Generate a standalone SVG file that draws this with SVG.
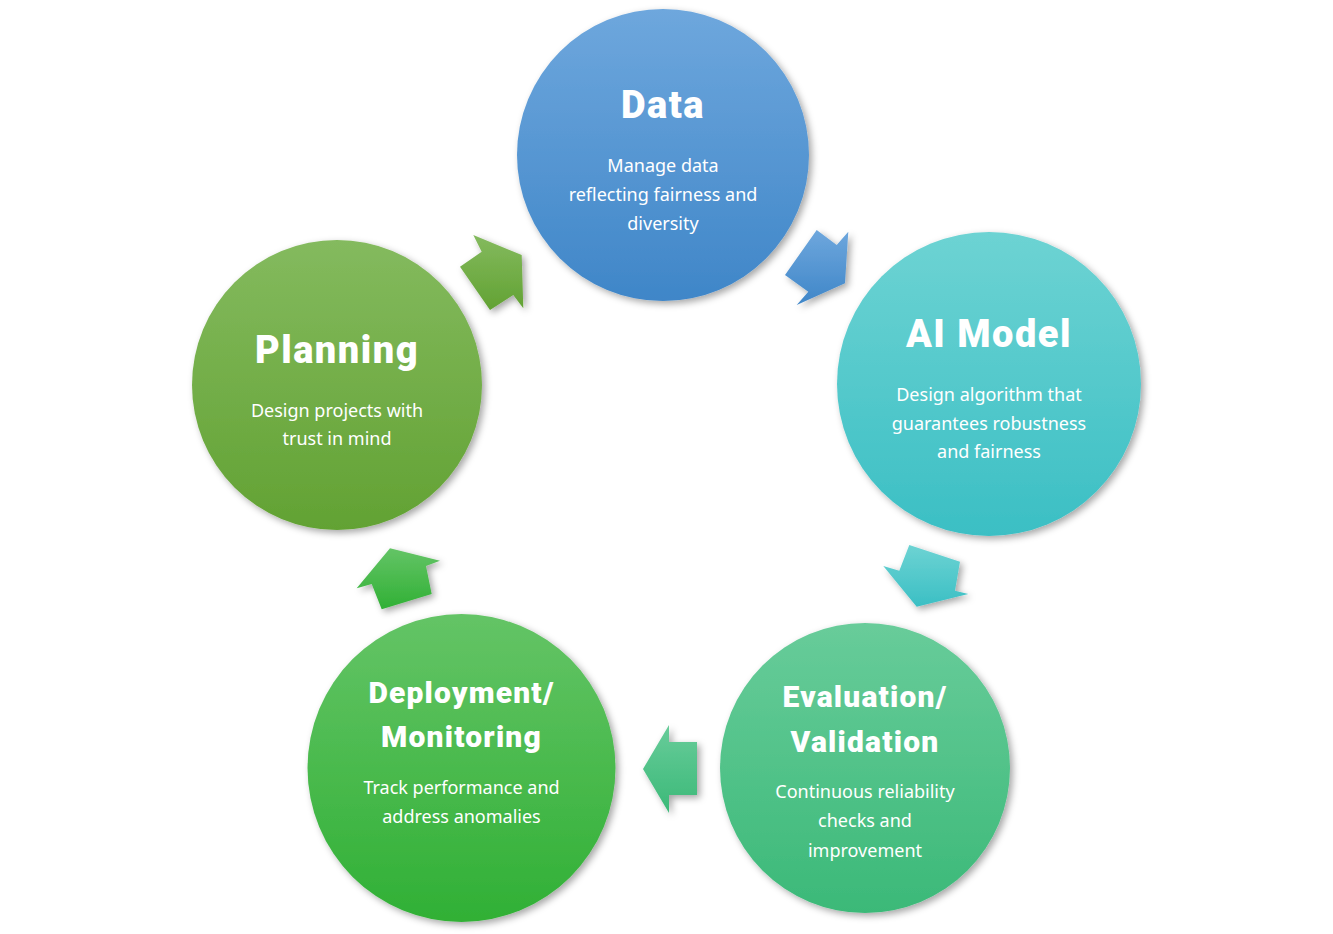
<svg xmlns="http://www.w3.org/2000/svg" width="1333" height="934" viewBox="0 0 1333 934">
<defs>
<linearGradient id="gBlue" x1="0" y1="0" x2="0" y2="1"><stop offset="0" stop-color="#6ea7dd"/><stop offset="1" stop-color="#3f86c8"/></linearGradient>
<linearGradient id="gCyan" x1="0" y1="0" x2="0" y2="1"><stop offset="0" stop-color="#6dd3d3"/><stop offset="1" stop-color="#3bbfc4"/></linearGradient>
<linearGradient id="gTeal" x1="0" y1="0" x2="0" y2="1"><stop offset="0" stop-color="#68cc9a"/><stop offset="1" stop-color="#3bb978"/></linearGradient>
<linearGradient id="gGreen" x1="0" y1="0" x2="0" y2="1"><stop offset="0" stop-color="#64c466"/><stop offset="1" stop-color="#30b035"/></linearGradient>
<linearGradient id="gOlive" x1="0" y1="0" x2="0" y2="1"><stop offset="0" stop-color="#84ba5e"/><stop offset="1" stop-color="#62a233"/></linearGradient>
<filter id="sh" x="-20%" y="-20%" width="140%" height="140%">
<feDropShadow dx="3" dy="3" stdDeviation="3.5" flood-color="#000" flood-opacity="0.35"/>
</filter>
</defs>
<style>
.title{font-family:Roboto,"Liberation Sans",sans-serif;font-weight:900;fill:#fff;text-anchor:middle;}
.big{font-size:38px;letter-spacing:1.5px;}
.mid{font-size:30px;letter-spacing:1.2px;}
.body{font-family:"Noto Sans","Noto Sans CJK KR",sans-serif;font-size:18px;fill:#fff;text-anchor:middle;}
</style>
<rect width="1333" height="934" fill="#fff"/>
<g id="connectors" filter="url(#sh)">
<polygon fill="url(#gOlive)" points="473.3,235 521.7,255 523.3,308.3 513.3,295 490,310 460,266.7 481.7,251.7"/>
<polygon fill="url(#gBlue)" points="816.7,230 836.7,245 848.3,231.7 845,283.3 796.7,305 808.3,291.7 785,275"/>
<polygon fill="url(#gCyan)" points="909.3,545 960,561.7 955,590.7 968.3,594 916.7,606.7 883.3,566 899.3,570.7"/>
<polygon fill="url(#gTeal)" points="643,769 669,725 669,742 697,742 697,795 669,795 669,813"/>
<polygon fill="url(#gGreen)" points="390,548.3 440,560.7 426,566 431.7,594 381.7,609.3 371.7,584 356.7,588.3"/>
</g>
<g id="data">
<circle cx="663" cy="155" r="146" fill="url(#gBlue)" filter="url(#sh)"/>
<text class="title big" x="663" y="118">Data</text>
<text class="body" x="663" y="172">Manage data</text>
<text class="body" x="663" y="201">reflecting fairness and</text>
<text class="body" x="663" y="230">diversity</text>
</g>
<g id="ai-model">
<circle cx="989" cy="384" r="152" fill="url(#gCyan)" filter="url(#sh)"/>
<text class="title big" x="989" y="347">AI Model</text>
<text class="body" x="989" y="401">Design algorithm that</text>
<text class="body" x="989" y="430">guarantees robustness</text>
<text class="body" x="989" y="458">and fairness</text>
</g>
<g id="evaluation">
<circle cx="865" cy="768" r="145" fill="url(#gTeal)" filter="url(#sh)"/>
<text class="title mid" x="865" y="707">Evaluation/</text>
<text class="title mid" x="865" y="752">Validation</text>
<text class="body" x="865" y="798">Continuous reliability</text>
<text class="body" x="865" y="827">checks and</text>
<text class="body" x="865" y="857">improvement</text>
</g>
<g id="deployment">
<circle cx="461.5" cy="768" r="154" fill="url(#gGreen)" filter="url(#sh)"/>
<text class="title mid" x="461.5" y="703">Deployment/</text>
<text class="title mid" x="461.5" y="747">Monitoring</text>
<text class="body" x="461.5" y="794">Track performance and</text>
<text class="body" x="461.5" y="823">address anomalies</text>
</g>
<g id="planning">
<circle cx="337" cy="385" r="145" fill="url(#gOlive)" filter="url(#sh)"/>
<text class="title big" x="337" y="363">Planning</text>
<text class="body" x="337" y="417">Design projects with</text>
<text class="body" x="337" y="445">trust in mind</text>
</g>
</svg>
